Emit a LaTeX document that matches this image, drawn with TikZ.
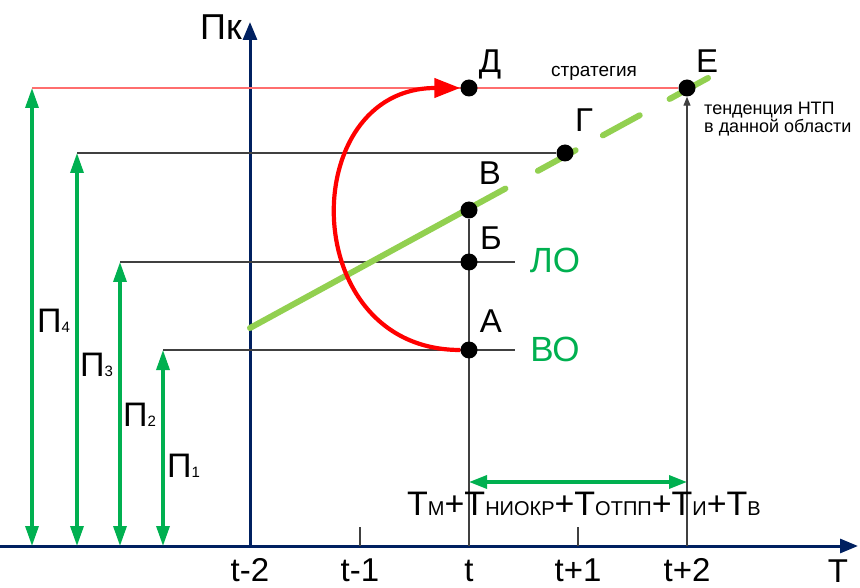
\documentclass[tikz,border=0pt]{standalone}
\usepackage{fontspec}
\setmainfont{Liberation Sans}
\usetikzlibrary{arrows.meta}
\definecolor{axisblue}{RGB}{0,32,96}
\definecolor{arrgreen}{RGB}{0,176,80}
\definecolor{trendgreen}{RGB}{146,208,80}
\definecolor{stratred}{RGB}{255,110,110}
\definecolor{arcred}{RGB}{255,0,0}
\newcommand\fsz[1]{\fontsize{#1}{#1}\selectfont}
\pgfdeclarelayer{background}
\pgfsetlayers{background,main}
\begin{document}
\begin{tikzpicture}[x=1pt,y=-1pt,
  dot/.style={circle,fill=black,minimum size=17pt,inner sep=0pt},
  lbl/.style={inner sep=0pt,anchor=base,font=\fsz{33}},
  axisline/.style={draw=axisblue,line width=3pt,-{Triangle[length=18pt,width=14pt]}},
  thinline/.style={draw=black!75,line width=1.1pt},
  levelarrow/.style={draw=arrgreen,line width=3.3pt,{Triangle[length=20pt,width=13pt]}-{Triangle[length=20pt,width=13pt]}},
  trend/.style={draw=trendgreen,line width=6pt,line cap=round},
]
\useasboundingbox (0,0) rectangle (860,588);

% points
\node[dot] (D) at (469,88) {};
\node[dot] (E) at (687,88) {};
\node[dot] (G) at (565,153) {};
\node[dot] (V) at (469,210) {};
\node[dot] (B) at (469,262) {};
\node[dot] (A) at (469,350) {};

% axes
\coordinate (O) at (250,546);
\coordinate (Xl) at (0,546);
\coordinate (Xr) at (858,546);
\coordinate (Yt) at (250,22);

% tick coordinates
\coordinate (tm1) at (360,546);
\coordinate (tm1u) at (360,527);
\coordinate (t0) at (469,546);
\coordinate (tp1) at (578,546);
\coordinate (tp1u) at (578,527);
\coordinate (tp2) at (687,546);

% left ends of level lines
\coordinate (L4) at (32,88);
\coordinate (L3) at (77,153);
\coordinate (L2) at (120,262);
\coordinate (L1) at (163,350);
\coordinate (L4b) at (32,546);
\coordinate (L3b) at (77,546);
\coordinate (L2b) at (120,546);
\coordinate (L1b) at (163,546);
\coordinate (Bend) at (515,262);
\coordinate (Aend) at (515,350);

% trend line
\coordinate (Ts) at (250,328);
\coordinate (Te) at (708,78);

% duration arrow
\coordinate (Dl) at (469,482);
\coordinate (Dr) at (687,482);

\begin{pgfonlayer}{background}
  \draw[axisline] (Xl) -- (Xr);
  \draw[axisline] (O) -- (Yt);
  \draw[thinline] (tm1) -- (tm1u);
  \draw[thinline] (tp1) -- (tp1u);
  \draw[thinline] (t0) -- (V);
  \draw[thinline,-{Triangle[length=9pt,width=7pt]}] (tp2) -- (E);
  \draw[draw=stratred,line width=1.4pt] (L4) -- (E);
  \draw[thinline] (L3) -- (G);
  \draw[thinline] (L2) -- (Bend);
  \draw[thinline] (L1) -- (Aend);
  \draw[levelarrow] (L4b) -- (L4);
  \draw[levelarrow] (L3b) -- (L3);
  \draw[levelarrow] (L2b) -- (L2);
  \draw[levelarrow] (L1b) -- (L1);
  \draw[trend,dash pattern=on 291pt off 37pt on 43pt off 31pt on 42pt off 34pt on 60pt] (Ts) -- (Te);
  \draw[draw=arcred,line width=4.2pt,-{Triangle[length=26pt,width=19pt]}] (A) .. controls (296,350) and (296,88) .. (D);
  \draw[draw=arrgreen,line width=3.3pt,{Triangle[length=18pt,width=13pt]}-{Triangle[length=18pt,width=13pt]}] (Dl) -- (Dr);
\end{pgfonlayer}

% point labels
\node[lbl] (lD) at (490,73) {Д};
\node[lbl] (lE) at (707,73) {Е};
\node[lbl] (lG) at (584,132) {Г};
\node[lbl] (lV) at (490,185) {В};
\node[lbl] (lB) at (491,250) {Б};
\node[lbl] (lA) at (491,333) {А};
\node[lbl,text=arrgreen,font=\fsz{35}] (lLO) at (555,273) {ЛО};
\node[lbl,text=arrgreen,font=\fsz{35}] (lVO) at (555,361) {ВО};

% axis labels
\node[lbl,font=\fsz{36}] (lPk) at (221,40) {Пк};
\node[lbl,font=\fsz{33}] (lT) at (838,582) {Т};
\node[lbl] (ltm2) at (250,581) {t-2};
\node[lbl] (ltm1) at (360,581) {t-1};
\node[lbl] (lt0) at (469,581) {t};
\node[lbl] (ltp1) at (578,581) {t+1};
\node[lbl] (ltp2) at (687,581) {t+2};

% level labels
\node[lbl,anchor=base west] (lP4) at (37,333) {\fsz{34}П\fsz{15}4};
\node[lbl,anchor=base west] (lP3) at (80,376) {\fsz{34}П\fsz{15}3};
\node[lbl,anchor=base west] (lP2) at (123,426) {\fsz{34}П\fsz{15}2};
\node[lbl,anchor=base west] (lP1) at (167,477) {\fsz{34}П\fsz{15}1};

% texts
\node[lbl,font=\fsz{19}] (strat) at (594,77) {стратегия};
\node[lbl,anchor=base west,font=\fsz{18}] (tr1) at (704,115) {тенденция НТП};
\node[lbl,anchor=base west,font=\fsz{18}] (tr2) at (704,133) {в данной области};

\node[lbl,anchor=base west] (formula) at (407,515)
  {\fsz{34}Т\fsz{20}М\fsz{34}+Т\fsz{20}НИОКР\fsz{34}+Т\fsz{20}ОТПП\fsz{34}+Т\fsz{20}И\fsz{34}+Т\fsz{20}В};
\end{tikzpicture}
\end{document}
